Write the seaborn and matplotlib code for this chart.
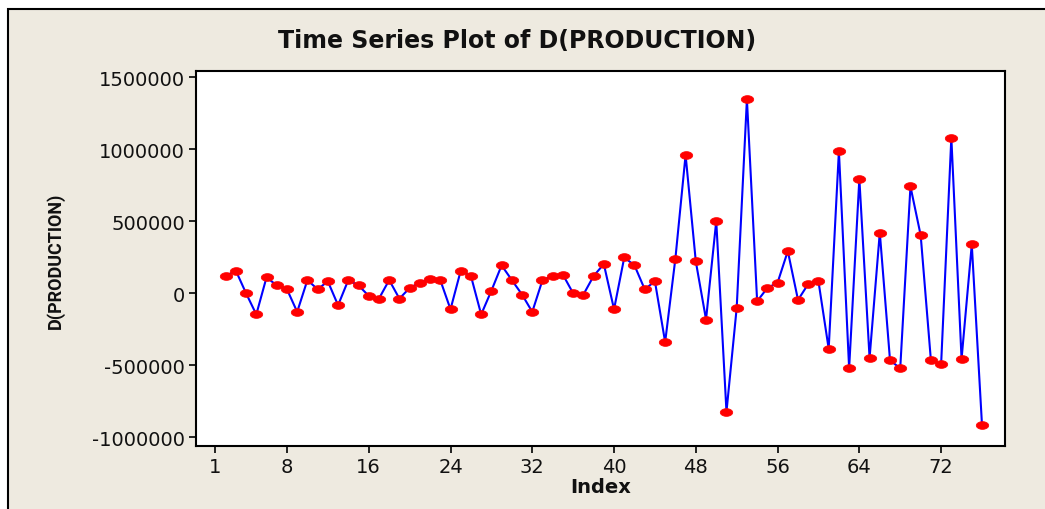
import numpy as np
import pandas as pd
import matplotlib
matplotlib.use("Agg")
import matplotlib.pyplot as plt
from matplotlib.path import Path
from matplotlib.patches import Rectangle
from matplotlib.font_manager import FontProperties
import seaborn as sns

# ---- data ----
index = list(range(2, 77))
d_production = [
    120000, 157000, 0, -147000, 111000, 55000, 28000, -129000, 92000, 28000,
    83000, -83000, 92000, 55000, -18000, -37000, 92000, -37000, 37000, 74000,
    101000, 92000, -111000, 157000, 120000, -147000, 18000, 194000, 92000, -9000,
    -129000, 92000, 120000, 129000, 0, -9000, 120000, 203000, -111000, 249000,
    194000, 28000, 83000, -339000, 240000, 961000, 221000, -182000, 502000, -823000,
    -101000, 1348000, -55000, 37000, 74000, 293000, -46000, 65000, 83000, -385000,
    988000, -521000, 795000, -449000, 422000, -465000, -521000, 742000, 403000, -465000,
    -493000, 1081000, -456000, 339000, -915000,
]
x_ticks = [1, 8, 16, 24, 32, 40, 48, 56, 64, 72]
y_ticks = [-1000000, -500000, 0, 500000, 1000000, 1500000]

df = pd.DataFrame({"Index": index, "D(PRODUCTION)": d_production})

sns.set_theme(style="white")
plt.rcParams["font.family"] = ["DejaVu Sans"]

BEIGE = "#EEEAE0"
fig = plt.figure(figsize=(10.45, 5.10), dpi=100, facecolor="white")
W, H = 1045, 510

# outer Minitab-style frame
fig.add_artist(Rectangle((8 / W, -0.05), 1.2, (H - 10) / H + 0.05,
                         transform=fig.transFigure, facecolor=BEIGE,
                         edgecolor="black", linewidth=1.5, zorder=-10))

ax = fig.add_axes([196 / W, (H - 446.7) / H, (1005 - 196) / W, (446.7 - 72.3) / H])
ax.set_facecolor("white")

# elliptical marker
t = np.linspace(0, 2 * np.pi, 40)
ell = Path(np.column_stack([np.cos(t), 0.62 * np.sin(t)]), closed=True)

sns.lineplot(data=df, x="Index", y="D(PRODUCTION)", ax=ax, color="#0000FF",
             linewidth=1.5, marker=ell, markersize=9,
             markerfacecolor="#FF0000", markeredgecolor="#FF0000",
             markeredgewidth=0.5)

ax.set_xlim(-0.9, 78.25)
ax.set_ylim(-1058300, 1541700)
ax.set_xticks(x_ticks)
ax.set_yticks(y_ticks)
ax.set_xticklabels([str(v) for v in x_ticks])
ax.set_yticklabels([str(v) for v in y_ticks])
ax.grid(False)

for s in ax.spines.values():
    s.set_visible(True)
    s.set_color("black")
    s.set_linewidth(1.5)

ax.tick_params(axis="both", which="major", direction="out", length=5, width=1.2,
               color="black", labelsize=14, labelcolor="#111111",
               bottom=True, left=True)
ax.tick_params(axis="y", pad=3)
ax.tick_params(axis="x", pad=3)

ax.set_xlabel("Index", fontsize=14, fontweight="bold", color="#111111")
ax.xaxis.label.set_va("center")
ax.xaxis.set_label_coords(0.5, -0.108)

ylab_fp = FontProperties(family=["Roboto", "DejaVu Sans"], weight="bold", size=13)
ax.set_ylabel("D(PRODUCTION)", fontproperties=ylab_fp, color="#111111")
ax.yaxis.label.set_va("center")
ax.yaxis.set_label_coords(-0.174, 0.496)

fig.text(0.495, 1 - 41 / H, "Time Series Plot of D(PRODUCTION)", ha="center",
         va="center", fontsize=17, fontweight="bold", color="#111111")

fig.savefig("out.png", dpi=100, facecolor=fig.get_facecolor())
